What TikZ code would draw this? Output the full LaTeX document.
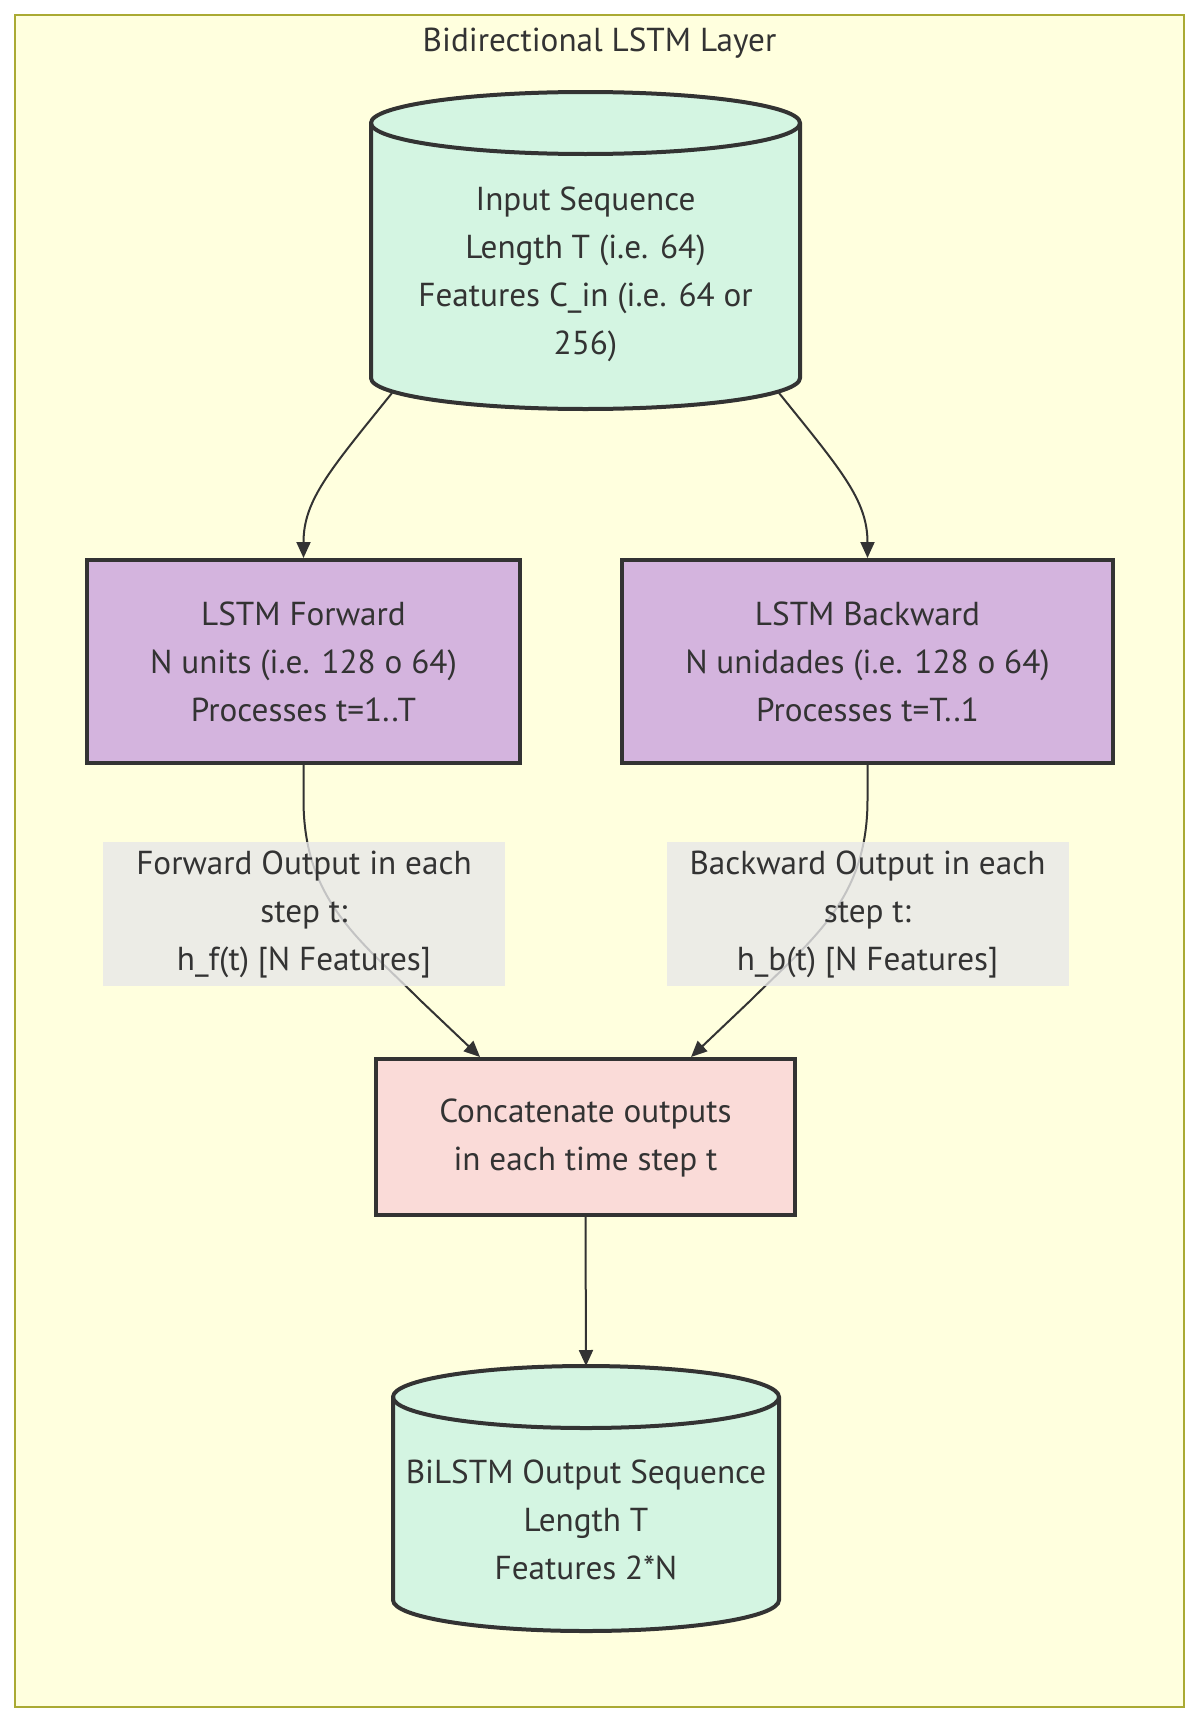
\documentclass[tikz,border=0pt]{standalone}
\usepackage{fontspec}
\setmainfont{PT Sans}
\usetikzlibrary{arrows.meta,calc}
\definecolor{frameFill}{HTML}{FFFFDE}
\definecolor{frameLine}{HTML}{AAAA33}
\definecolor{ink}{HTML}{333333}
\definecolor{cylFill}{HTML}{D4F5E2}
\definecolor{lstmFill}{HTML}{D4B4DE}
\definecolor{catFill}{HTML}{FADBD8}
\definecolor{lblFill}{HTML}{E8E8E8}
\tikzset{
  txt/.style={text=ink, font=\fontsize{16.6pt}{24pt}\selectfont, align=center, inner sep=0pt},
  frame/.style={draw=frameLine, fill=frameFill, line width=1pt},
  cyl/.style={draw=ink, fill=cylFill, line width=2pt},
  lstmbox/.style={txt, draw=ink, fill=lstmFill, line width=2pt, minimum height=101.5pt},
  catbox/.style={txt, draw=ink, fill=catFill, line width=2pt},
  lbl/.style={txt, fill=lblFill, fill opacity=0.8, text opacity=1, minimum width=201pt, minimum height=72pt},
  edge/.style={draw=ink, line width=1pt, -{Triangle[length=8pt,width=7pt]}},
}
\begin{document}
\begin{tikzpicture}[x=0.5pt,y=-0.5pt]
\useasboundingbox (0,0) rectangle (1204,1724);
\fill[white] (0,0) rectangle (1204,1724);
\draw[frame] (15,15) rectangle (1184,1707);
\node[txt] (title) at (599.5,43) {Bidirectional LSTM Layer};

% input cylinder
\path[cyl] (371,123) -- (371,378) arc[start angle=180,end angle=360,x radius=107.25pt,y radius=15.5pt]
  -- (800,123) arc[start angle=0,end angle=180,x radius=107.25pt,y radius=15.5pt] -- cycle;
\draw[ink, line width=2pt] (371,123) arc[start angle=180,end angle=360,x radius=107.25pt,y radius=15.5pt];
\node[txt] (inseq) at (585.5,274) {Input Sequence\\Length T (i.e. 64)\\Features C\_in (i.e. 64 or\\256)};
\coordinate (inL) at (392,393);
\coordinate (inR) at (779,393);

% LSTM boxes
\node[lstmbox, minimum width=216.5pt] (fwd) at (303.5,661.5) {LSTM Forward\\N units (i.e. 128 o 64)\\Processes t=1..T};
\node[lstmbox, minimum width=245.5pt] (bwd) at (867.5,661.5) {LSTM Backward\\N unidades (i.e. 128 o 64)\\Processes t=T..1};

% concat box
\node[catbox, minimum width=209.5pt, minimum height=78pt] (cat) at (585.5,1137) {\raisebox{-3pt}{\begin{tabular}{@{}c@{}}Concatenate outputs\\in each time step t\end{tabular}}};

% output cylinder
\path[cyl] (393,1397) -- (393,1600) arc[start angle=180,end angle=360,x radius=96.5pt,y radius=15.5pt]
  -- (779,1397) arc[start angle=0,end angle=180,x radius=96.5pt,y radius=15.5pt] -- cycle;
\draw[ink, line width=2pt] (393,1397) arc[start angle=180,end angle=360,x radius=96.5pt,y radius=15.5pt];
\node[txt] (outseq) at (586,1520) {BiLSTM Output Sequence\\Length T\\Features 2*N};
\coordinate (outTop) at (586,1366);

% edges
\draw[edge] (inL) .. controls (330,470) and (303.5,500) .. (fwd.north);
\draw[edge] (inR) .. controls (841,470) and (867.5,500) .. (bwd.north);
\draw[edge] (fwd.south) -- ++(0,35) .. controls (303.5,900) and (360,940) .. (420,1000) -- ($(cat.north)+(-105.5,0)$);
\draw[edge] (bwd.south) -- ++(0,35) .. controls (867.5,900) and (811,940) .. (751,1000) -- ($(cat.north)+(105.5,0)$);
\draw[edge] (cat.south) -- (outTop);

% edge labels
\node[lbl] (lblF) at (304,914) {Forward Output in each\\step t:\\h\_f(t) [N Features]};
\node[lbl] (lblB) at (867.5,914) {Backward Output in each\\step t:\\h\_b(t) [N Features]};
\end{tikzpicture}
\end{document}
